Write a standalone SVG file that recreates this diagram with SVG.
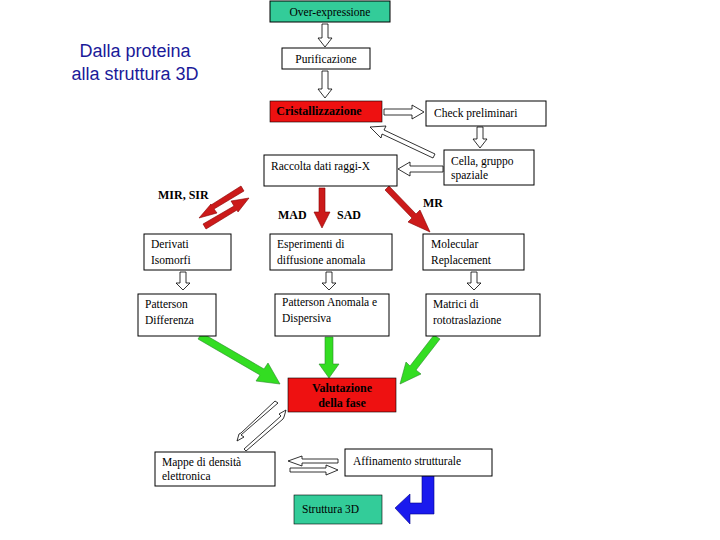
<svg xmlns="http://www.w3.org/2000/svg" width="720" height="540" viewBox="0 0 720 540">
<style>
.b{fill:#fff;stroke:#000;stroke-width:1}
.t{font-family:"Liberation Serif",serif;font-size:11.5px;fill:#000}
.bd{font-family:"Liberation Serif",serif;font-size:12px;font-weight:bold;fill:#000}
.h{fill:#fff;stroke:#000;stroke-width:0.8}
.r{fill:#cc1a1a;stroke:#800;stroke-width:0.6}
.g{fill:#33dd22;stroke:#2a8a2a;stroke-width:0.6}
</style>
<defs>
<path id="ha" d="M0,-3 L-12,-3 L-12,-7 L0,0 L-12,7 L-12,3 L0,3 Z" transform="scale(1)"/>
<path id="hollow" d="M0,-3 L30,-3 L30,-7 L40,0 L30,7 L30,3 L0,3 Z"/>
<path id="fat" d="M0,-3.5 L1,-3.5 L1,-8 L14,0 L1,8 L1,3.5 L0,3.5 Z"/>
</defs>
<rect width="720" height="540" fill="#fff"/>
<text x="135" y="57" text-anchor="middle" font-family="Liberation Sans,sans-serif" font-size="18" fill="#1a1a99">Dalla proteina</text>
<text x="135" y="80" text-anchor="middle" font-family="Liberation Sans,sans-serif" font-size="18" fill="#1a1a99">alla struttura 3D</text>
<g id="connectors">
<path class="h" d="M322,24 L328,24 L328,38 L332,38 L325,47 L318,38 L322,38 Z"/>
<path class="h" d="M322,71 L328,71 L328,89 L332,89 L325,98 L318,89 L322,89 Z"/>
<path class="h" d="M384,109 L412,109 L412,105 L424,112 L412,119 L412,115 L384,115 Z"/>
<path class="h" d="M477,127 L483,127 L483,139 L487,139 L480,148 L473,139 L477,139 Z"/>
<path class="h" d="M435,154 L384,130 L386,126 L370,127 L381,138 L382,134 L433,158 Z"/>
<path class="h" d="M443,166 L410,166 L410,162 L398,169 L410,176 L410,172 L443,172 Z"/>
<path class="h" d="M180,272 L186,272 L186,283 L190,283 L183,290 L176,283 L180,283 Z"/>
<path class="h" d="M326,272 L332,272 L332,283 L336,283 L329,290 L322,283 L326,283 Z"/>
<path class="h" d="M471,272 L477,272 L477,283 L481,283 L474,290 L467,283 L471,283 Z"/>
<path class="r" d="M319,188 L325,188 L325,212 L330,212 L322,228 L314,212 L319,212 Z"/>
<path class="r" d="M385,190 L389,186 L416,214 L420,210 L430,232 L408,222 L412,218 Z"/>
<path class="r" d="M241,186 L244,191 L214,209 L217,213 L199,218 L211,204 L211,205 Z"/>
<path class="r" d="M206,229 L203,224 L234,206 L231,201 L249,198 L238,212 L237,210 Z"/>
<path class="g" d="M198,339 L202,333 L264,369 L268,363 L280,384 L256,381 L260,375 Z"/>
<path class="g" d="M325,337 L333,337 L333,364 L339,364 L329,378 L319,364 L325,364 Z"/>
<path class="g" d="M434,335 L440,339 L416,370 L421,374 L400,384 L406,362 L410,366 Z"/>
<path class="h" d="M278,403 L241,435 L244,437 L237,441 L239,434 L241,433 L275,401 Z"/>
<path class="h" d="M244,449 L281,416 L279,414 L286,410 L284,417 L283,419 L246,451 Z"/>
<path class="h" d="M338,459 L302,459 L302,456 L288,461 L302,466 L302,463 L338,463 Z"/>
<path class="h" d="M290,468 L326,468 L326,465 L338,470 L326,475 L326,472 L290,472 Z"/>
<path d="M422,474 L434,474 L434,514 L410,514 L410,524 L395,508 L410,494 L410,503 L422,503 Z" fill="#1a1aee" stroke="#000088" stroke-width="0.6"/>
</g>
<g id="over"><rect x="270" y="1" width="120" height="21" fill="#33cc99" stroke="#000"/><text class="t" x="330" y="16" text-anchor="middle" fill="#000">Over-expressione</text></g>
<g id="purif"><rect class="b" x="282" y="48" width="88" height="21"/><text class="t" x="326" y="63" text-anchor="middle" font-size="11">Purificazione</text></g>
<g id="crist"><rect x="270" y="101" width="112" height="21" fill="#ee1111" stroke="#000" stroke-width="0.6"/><text class="bd" x="319" y="115" text-anchor="middle" fill="#550000" font-size="11">Cristallizzazione</text></g>
<g id="check"><rect class="b" x="426" y="101" width="120" height="25"/><text class="t" x="434" y="117" font-size="11">Check preliminari</text></g>
<g id="cella"><rect class="b" x="444" y="150" width="90" height="35"/><text class="t" x="451" y="165">Cella, gruppo</text><text class="t" x="451" y="179">spaziale</text></g>
<g id="raccolta"><rect class="b" x="264" y="155" width="133" height="31"/><text class="t" x="271" y="170">Raccolta dati raggi-X</text></g>
<text class="bd" x="158" y="199">MIR, SIR</text>
<text class="bd" x="278" y="219">MAD</text>
<text class="bd" x="337" y="219">SAD</text>
<text class="bd" x="423" y="207">MR</text>
<g id="derivati"><rect class="b" x="144" y="234" width="87" height="36"/><text class="t" x="151" y="248">Derivati</text><text class="t" x="151" y="264">Isomorfi</text></g>
<g id="esperimenti"><rect class="b" x="270" y="234" width="122" height="36"/><text class="t" x="277" y="248">Esperimenti di</text><text class="t" x="277" y="264">diffusione anomala</text></g>
<g id="molecular"><rect class="b" x="423" y="234" width="101" height="36"/><text class="t" x="431" y="248">Molecular</text><text class="t" x="431" y="264">Replacement</text></g>
<g id="pattdiff"><rect class="b" x="138" y="294" width="78" height="42"/><text class="t" x="145" y="308">Patterson</text><text class="t" x="145" y="324">Differenza</text></g>
<g id="pattanom"><rect class="b" x="275" y="294" width="114" height="42"/><text class="t" x="282" y="306">Patterson Anomala e</text><text class="t" x="282" y="322">Dispersiva</text></g>
<g id="matrici"><rect class="b" x="426" y="294" width="114" height="42"/><text class="t" x="433" y="308">Matrici di</text><text class="t" x="433" y="324">rototraslazione</text></g>
<g id="valutazione"><rect x="288" y="378" width="108" height="34" fill="#ee1111" stroke="#000" stroke-width="0.6"/><text class="bd" x="342" y="392" text-anchor="middle" fill="#550000" font-size="11">Valutazione</text><text class="bd" x="342" y="407" text-anchor="middle" fill="#550000" font-size="11">della fase</text></g>
<g id="mappe"><rect class="b" x="155" y="452" width="120" height="34"/><text class="t" x="162" y="466">Mappe di densità</text><text class="t" x="162" y="480">elettronica</text></g>
<g id="affinamento"><rect class="b" x="345" y="449" width="147" height="27"/><text class="t" x="353" y="465">Affinamento strutturale</text></g>
<g id="struttura"><rect x="294" y="495" width="88" height="29" fill="#33cc99" stroke="#000" stroke-width="0.6"/><text class="t" x="302" y="513" font-size="12">Struttura 3D</text></g>
</svg>
